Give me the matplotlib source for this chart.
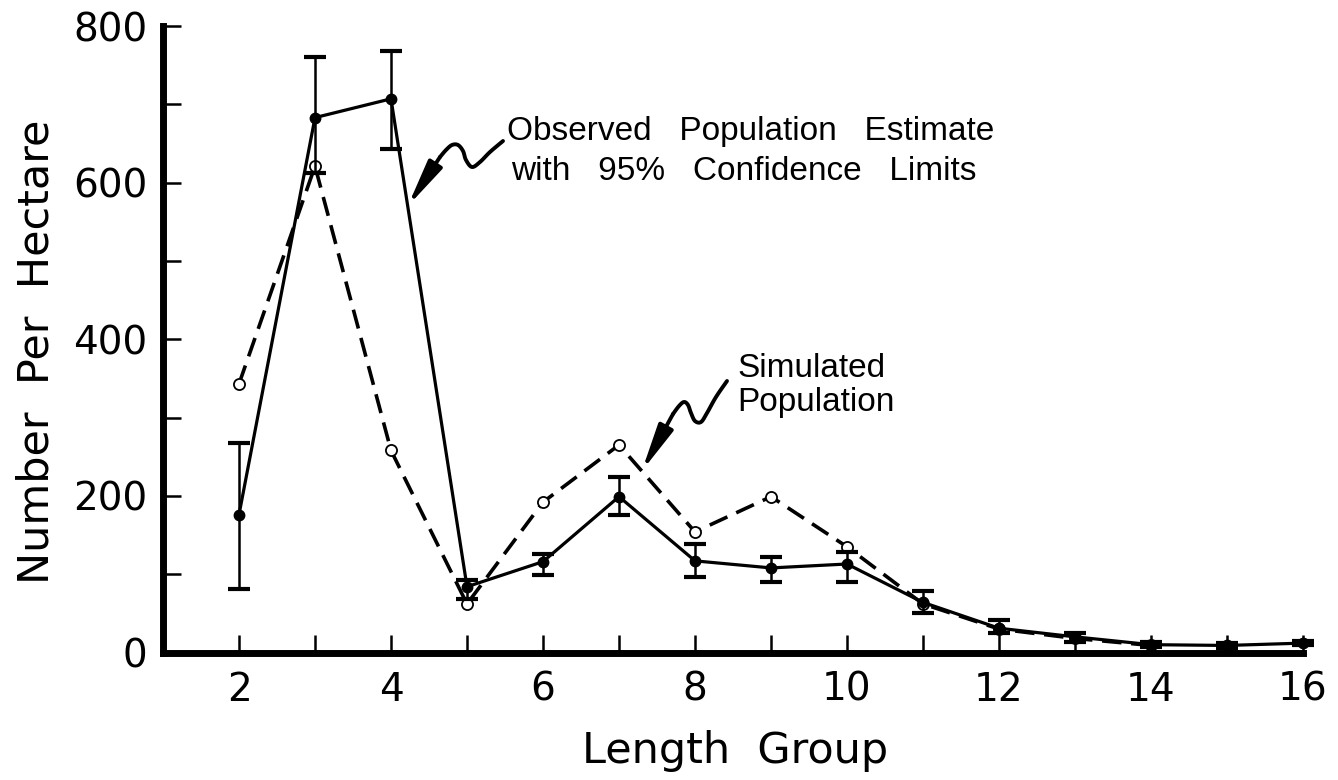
import numpy as np
import matplotlib
matplotlib.use("Agg")
import matplotlib.pyplot as plt
from matplotlib.lines import Line2D

# ---- data ----
length_group = [2, 3, 4, 5, 6, 7, 8, 9, 10, 11, 12, 13, 14, 15, 16]
observed = [176, 683, 707, 84, 116, 199, 117, 108, 113, 64, 31, 20, 10, 9, 12]
ci_upper = [268, 760, 768, 93, 126, 224, 139, 122, 128, 79, 42, 25, 13, 12, 15]
ci_lower = [81, 612, 643, 68, 99, 176, 96, 90, 90, 50, 25, 13, 7, 6, 9]

sim_group = [2, 3, 4, 5, 6, 7, 8, 9, 10, 11, 12, 13, 14]
simulated = [343, 621, 258, 62, 192, 265, 154, 199, 135, 62, 30, 18, 9]

x_ticks = [2, 4, 6, 8, 10, 12, 14, 16]
y_ticks = [0, 200, 400, 600, 800]

obs_label_lines = ["Observed   Population   Estimate", "with   95%   Confidence   Limits"]
sim_label_lines = ["Simulated", "Population"]

plt.rcParams["lines.scale_dashes"] = False
plt.rcParams["font.family"] = ["DejaVu Sans"]

W, H = 1338, 780
fig = plt.figure(figsize=(W / 100, H / 100), dpi=100)
ax = fig.add_axes([163 / W, 1 - 652.5 / H, 1140 / W, 626.5 / H])
ax.set_xlim(1, 16)
ax.set_ylim(0, 800)

# simulated population (dashed, open circles)
ax.plot(sim_group, simulated, color="black", lw=2.6, dashes=(14, 7),
        marker="o", ms=8, mfc="white", mec="black", mew=1.3,
        clip_on=False, zorder=3)

# observed estimate with 95% CI
obs = np.array(observed)
yerr = [obs - np.array(ci_lower), np.array(ci_upper) - obs]
ax.errorbar(length_group, observed, yerr=yerr, color="black", lw=2.3,
            marker="o", ms=7.5, mfc="black", mec="black",
            elinewidth=1.8, capsize=8, capthick=3, clip_on=False, zorder=4)

# axes styling
for s in ["top", "right"]:
    ax.spines[s].set_visible(False)
for s in ["left", "bottom"]:
    ax.spines[s].set_linewidth(5)
    ax.spines[s].set_capstyle("projecting")

ax.set_xticks(x_ticks)
ax.set_xticks([v for v in range(3, 16, 2)], minor=True)
ax.set_yticks(y_ticks)
ax.set_yticks([v for v in range(100, 800, 200)], minor=True)
ax.tick_params(which="both", direction="in", length=13, width=1.8, color="black")
ax.tick_params(axis="x", labelsize=28, pad=13)
ax.tick_params(axis="y", labelsize=28, pad=11)

# axis labels
fig.text(735 / W, 1 - 763 / H, "Length  Group", fontsize=31, ha="center",
         va="baseline")
fig.text(37 / W, 1 - 352 / H, "Number  Per  Hectare", fontsize=31,
         rotation=90, ha="center", va="center")

# annotation texts
ann_font = dict(family=["Liberation Sans", "DejaVu Sans"], fontsize=24)
fig.text(507 / W, 1 - 140 / H, obs_label_lines[0], ha="left", va="baseline", **ann_font)
fig.text(511 / W, 1 - 180 / H, obs_label_lines[1], ha="left", va="baseline", **ann_font)
fig.text(737 / W, 1 - 377 / H, sim_label_lines[0], ha="left", va="baseline", **ann_font)
fig.text(737 / W, 1 - 411 / H, sim_label_lines[1], ha="left", va="baseline", **ann_font)


def catmull(pts, n=12):
    pts = np.asarray(pts, float)
    p = np.vstack([pts[0], pts, pts[-1]])
    out = []
    for i in range(1, len(p) - 2):
        p0, p1, p2, p3 = p[i - 1], p[i], p[i + 1], p[i + 2]
        for t in np.linspace(0, 1, n, endpoint=False):
            t2, t3 = t * t, t * t * t
            out.append(0.5 * ((2 * p1) + (-p0 + p2) * t +
                              (2 * p0 - 5 * p1 + 4 * p2 - p3) * t2 +
                              (-p0 + 3 * p1 - 3 * p2 + p3) * t3))
    out.append(pts[-1])
    return np.array(out)


def squiggle(pix_pts, tip_x, xs, ys):
    c = catmull(pix_pts)
    fig.add_artist(Line2D(c[:, 0] / W, 1 - c[:, 1] / H, transform=fig.transFigure,
                          color="black", lw=2.8, solid_capstyle="round"))
    end = pix_pts[-1]
    ax.annotate("", xy=(tip_x, np.interp(tip_x, xs, ys)), xycoords="data",
                xytext=(end[0] / W, 1 - end[1] / H), textcoords="figure fraction",
                arrowprops=dict(arrowstyle="-|>,head_length=1.4,head_width=0.24",
                                mutation_scale=20, lw=2.8, color="black",
                                shrinkA=0, shrinkB=0),
                annotation_clip=False, zorder=6)


squiggle([(503, 141), (490, 152), (480, 162), (472, 167), (466, 160), (463, 151),
          (458, 145), (452, 145), (446, 150), (440, 157)],
         4.22, length_group, observed)
squiggle([(727, 381), (716, 397), (707, 413), (701, 422), (695, 421), (691, 413),
          (688, 405), (684, 402), (679, 406), (673, 414)],
         7.30, sim_group, simulated)

fig.savefig("out.png", dpi=100, facecolor="white")
